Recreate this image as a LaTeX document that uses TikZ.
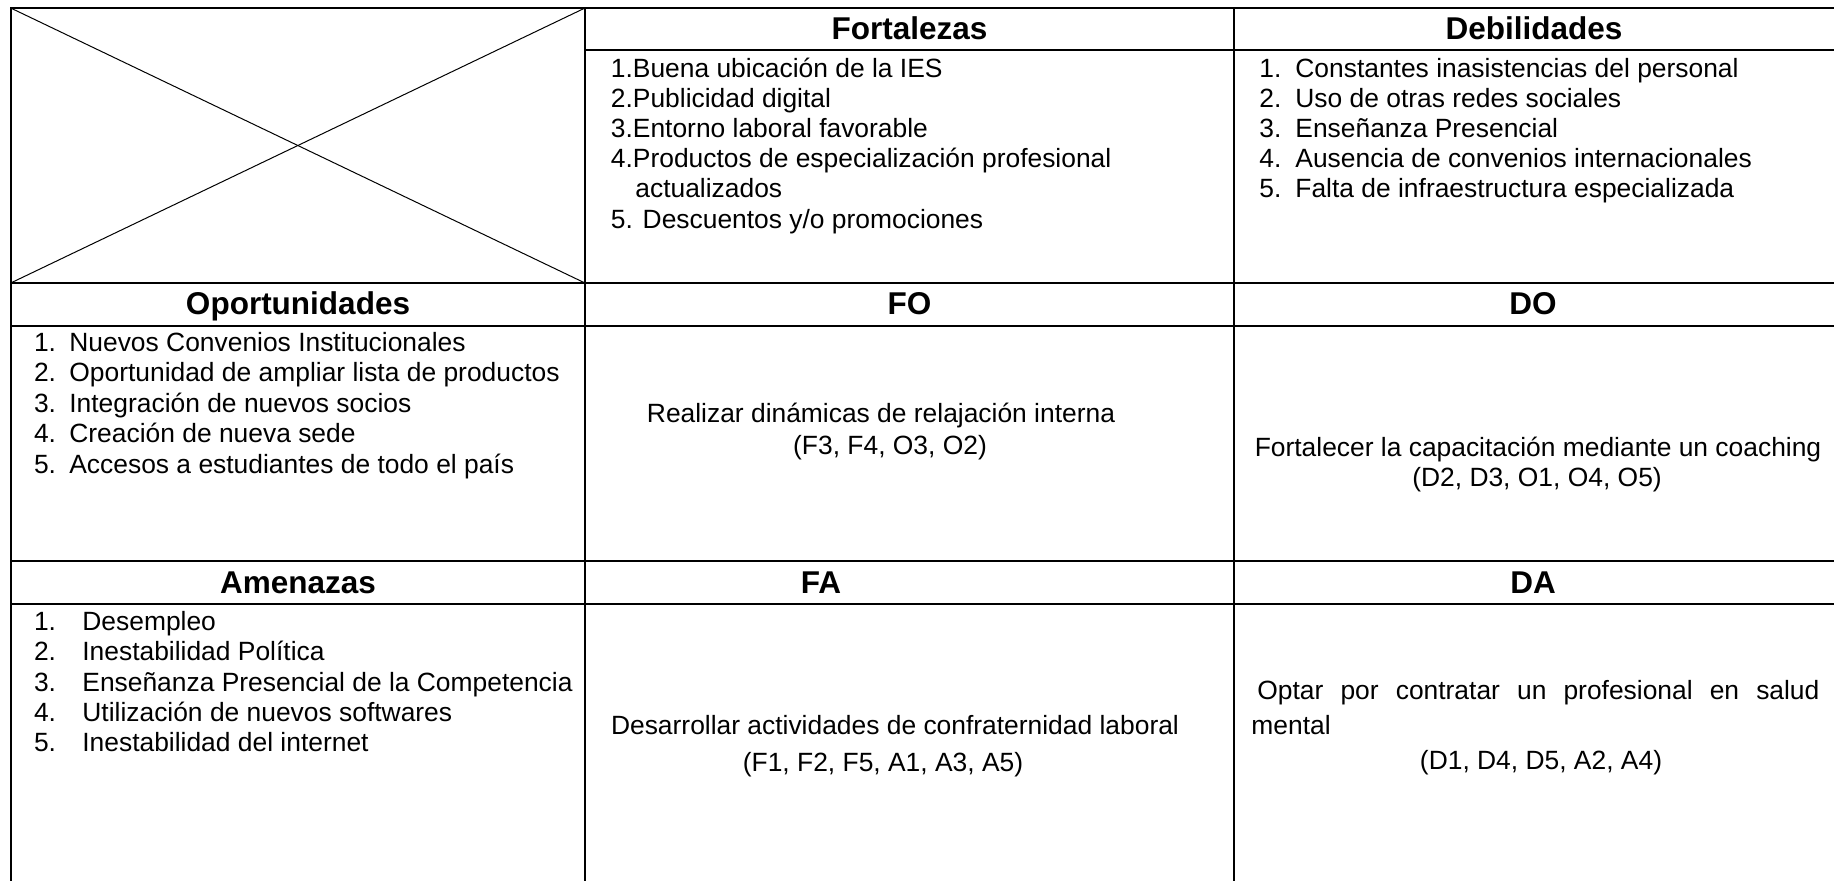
\documentclass[tikz,border=0pt]{standalone}
\usepackage{fontspec}
\setmainfont{Liberation Sans}
\begin{document}
\begin{tikzpicture}[x=0.5pt,y=-0.5pt,
  grid/.style={line width=1pt},
  diag/.style={line width=0.5pt},
  body/.style={font=\fontsize{13.2}{15}\selectfont, inner sep=0pt, anchor=base west},
  bodyc/.style={font=\fontsize{13.2}{15}\selectfont, inner sep=0pt, anchor=base},
  head/.style={font=\fontsize{15.75}{18}\bfseries\selectfont, inner sep=0pt, anchor=base}]
\useasboundingbox (0,0) rectangle (1834,880);
% grid
\coordinate (c00) at (10.7,8);
\coordinate (c01) at (585,8);
\coordinate (c10) at (10.7,283);
\coordinate (c11) at (585,283);
\draw[grid] (10.7,884) -- (c00) -- (1840,8);
\draw[grid] (c01) -- (585,884);
\draw[grid] (1234,8) -- (1234,884);
\draw[grid] (585,50) -- (1840,50);
\draw[grid] (c10) -- (1840,283);
\draw[grid] (10.7,326) -- (1840,326);
\draw[grid] (10.7,561) -- (1840,561);
\draw[grid] (10.7,604) -- (1840,604);
\draw[diag] (c00) -- (c11);
\draw[diag] (c10) -- (c01);
% headers
\node[head] (hF) at (909.5,39) {Fortalezas};
\node[head] (hD) at (1534,39) {Debilidades};
\node[head] (hO) at (298,314) {Oportunidades};
\node[head] (hFO) at (909.5,314) {FO};
\node[head] (hDO) at (1533,314) {DO};
\node[head] (hA) at (298,593) {Amenazas};
\node[head] (hFA) at (821,593) {FA};
\node[head] (hDA) at (1533,593) {DA};
% Fortalezas
\node[body] (f1) at (610.5,77) {1.Buena ubicación de la IES};
\node[body] (f2) at (610.5,107) {2.Publicidad digital};
\node[body] (f3) at (610.5,137) {3.Entorno laboral favorable};
\node[body] (f4) at (610.5,167) {4.Productos de especialización profesional};
\node[body] (f4b) at (635,197) {actualizados};
\node[body] (f5) at (610.5,228) {5. Descuentos y/o promociones};
% Debilidades
\node[body] (d1) at (1259,77) {\makebox[18pt][l]{1.}Constantes inasistencias del personal};
\node[body] (d2) at (1259,107) {\makebox[18pt][l]{2.}Uso de otras redes sociales};
\node[body] (d3) at (1259,137) {\makebox[18pt][l]{3.}Enseñanza Presencial};
\node[body] (d4) at (1259,167) {\makebox[18pt][l]{4.}Ausencia de convenios internacionales};
\node[body] (d5) at (1259,197) {\makebox[18pt][l]{5.}Falta de infraestructura especializada};
% Oportunidades
\node[body] (o1) at (33.6,351) {\makebox[17.7pt][l]{1.}Nuevos Convenios Institucionales};
\node[body] (o2) at (33.6,381.5) {\makebox[17.7pt][l]{2.}Oportunidad de ampliar lista de productos};
\node[body] (o3) at (33.6,412) {\makebox[17.7pt][l]{3.}Integración de nuevos socios};
\node[body] (o4) at (33.6,442.5) {\makebox[17.7pt][l]{4.}Creación de nueva sede};
\node[body] (o5) at (33.6,473) {\makebox[17.7pt][l]{5.}Accesos a estudiantes de todo el país};
% Amenazas
\node[body] (a1) at (33.6,630.5) {\makebox[24.2pt][l]{1.}Desempleo};
\node[body] (a2) at (33.6,660.8) {\makebox[24.2pt][l]{2.}Inestabilidad Política};
\node[body] (a3) at (33.6,691.1) {\makebox[24.2pt][l]{3.}Enseñanza Presencial de la Competencia};
\node[body] (a4) at (33.6,721.4) {\makebox[24.2pt][l]{4.}Utilización de nuevos softwares};
\node[body] (a5) at (33.6,751.7) {\makebox[24.2pt][l]{5.}Inestabilidad del internet};
% FO
\node[bodyc] (fo1) at (881,422) {Realizar dinámicas de relajación interna};
\node[bodyc] (fo2) at (890,454) {(F3, F4, O3, O2)};
% DO
\node[bodyc] (do1) at (1538,456) {Fortalecer la capacitación mediante un coaching};
\node[bodyc] (do2) at (1537,486) {(D2, D3, O1, O4, O5)};
% FA
\node[bodyc] (fa1) at (895,734) {Desarrollar actividades de confraternidad laboral};
\node[bodyc] (fa2) at (883,771) {(F1, F2, F5, A1, A3, A5)};
% DA
\node[body] (da1) at (1257,699) {\makebox[281pt][s]{Optar por contratar un profesional en salud}};
\node[body] (da2) at (1251,734) {mental};
\node[bodyc] (da3) at (1541,769) {(D1, D4, D5, A2, A4)};
\end{tikzpicture}
\end{document}
